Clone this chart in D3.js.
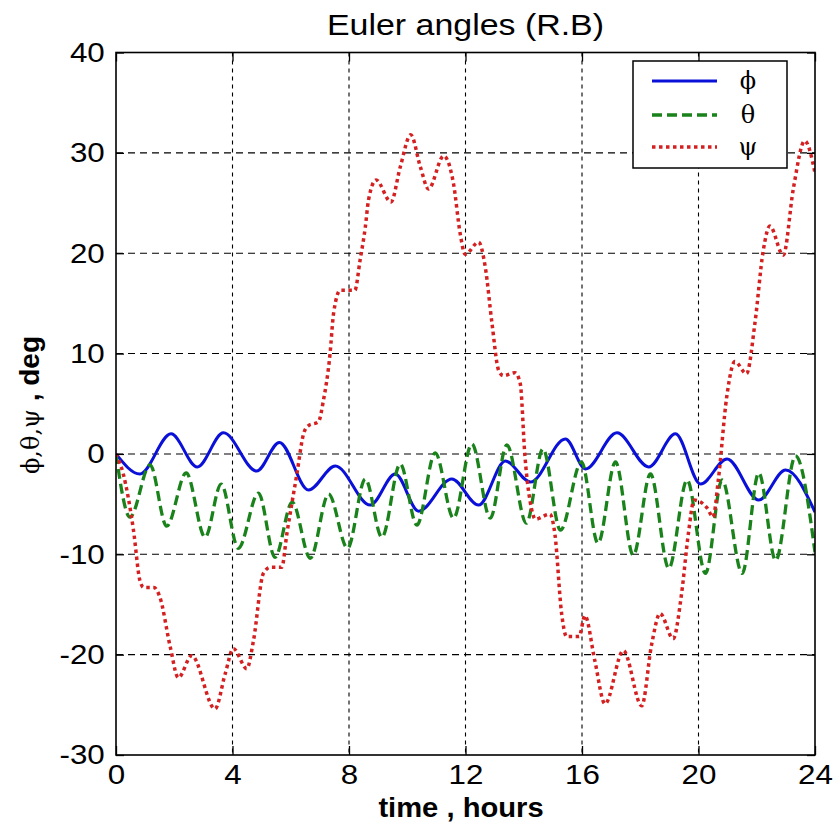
<!DOCTYPE html>
<html><head><meta charset="utf-8">
<script src="https://cdn.jsdelivr.net/npm/d3@7"></script>
<style>body{margin:0;background:#fff;} svg{display:block;}</style>
</head><body>
<svg id="chart" width="833" height="825"></svg>
<script>
// ---- data ----
const xTicks = [0, 4, 8, 12, 16, 20, 24];
const yTicks = [-30, -20, -10, 0, 10, 20, 30, 40];
const titleText = "Euler angles (R.B)";
const xLabel = "time , hours";
const seriesNames = ["ϕ", "θ", "ψ"];

const phiT = [0, 0.82, 1.89, 2.79, 3.69, 4.83, 5.61, 6.61, 7.53, 8.73, 9.59, 10.39, 11.53, 12.45, 13.37, 14.23, 15.43, 16.12, 17.2, 18.29, 19.21, 20.07, 20.98, 22.07, 22.99, 24];
const phiV = [0, -2.0, 2.0, -1.3, 2.1, -1.7, 1.15, -3.6, -1.2, -5.1, -2.0, -5.7, -2.5, -5.1, -0.7, -2.8, 1.5, -1.5, 2.1, -1.3, 2.0, -3.0, -0.5, -4.6, -1.6, -5.8];

const thetaT = [0, 0.48, 1.17, 1.74, 2.41, 3.06, 3.61, 4.2, 4.89, 5.46, 6.05, 6.67, 7.3, 7.95, 8.56, 9.13, 9.76, 10.33, 10.96, 11.59, 12.22, 12.85, 13.42, 14.09, 14.66, 15.26, 15.98, 16.55, 17.15, 17.76, 18.35, 18.98, 19.61, 20.24, 20.81, 21.5, 22.07, 22.65, 23.33, 24];
const thetaV = [0, -6.3, -1.1, -7.2, -1.9, -8.3, -3.0, -9.4, -3.9, -10.3, -4.8, -10.4, -4.0, -9.4, -2.5, -8.3, -1.0, -7.1, 0.1, -6.4, 1.0, -6.4, 0.9, -6.9, 0.5, -7.6, -0.8, -8.9, -0.8, -10.1, -2.0, -11.4, -2.6, -11.9, -2.6, -11.9, -1.9, -10.6, -0.2, -9.8];

const psiT = [0, 0.25, 0.6, 0.82, 0.95, 1.3, 1.51, 1.86, 2.14, 2.6, 3.4, 3.75, 4.03, 4.49, 4.72, 5.06, 5.3, 5.69, 5.87, 6.21, 6.44, 6.6, 6.95, 7.12, 7.35, 7.47, 7.7, 8.2, 8.38, 8.56, 8.67, 8.93, 9.44, 9.76, 10.12, 10.45, 10.73, 11.25, 11.59, 11.82, 11.99, 12.45, 12.68, 12.91, 13.14, 13.3, 13.7, 13.88, 14.04, 14.27, 14.4, 14.9, 15.07, 15.3, 15.47, 15.9, 16.1, 16.44, 16.79, 17.42, 18.05, 18.39, 18.68, 19.13, 19.42, 19.65, 19.85, 20.3, 20.5, 20.68, 20.97, 21.25, 21.65, 21.94, 22.22, 22.45, 22.91, 23.26, 23.65, 24];
const psiV = [0, -2.0, -7.6, -12.6, -13.3, -13.3, -14.3, -19.2, -22.3, -20.1, -25.4, -21.9, -19.4, -21.4, -18.6, -11.9, -11.3, -11.3, -7.9, -2.0, 2.0, 2.8, 3.2, 5.3, 10.0, 14.0, 16.3, 16.3, 19.3, 22.6, 25.3, 27.3, 25.1, 28.6, 31.8, 28.6, 26.4, 29.7, 26.9, 21.9, 19.9, 21.1, 18.6, 13.0, 8.3, 7.8, 8.1, 7.0, -0.2, -5.5, -6.5, -6.0, -8.0, -15.9, -18.2, -18.2, -16.1, -20.6, -24.9, -19.6, -25.1, -19.0, -15.9, -18.4, -13.9, -8.0, -4.6, -5.4, -6.3, -2.6, 5.7, 9.2, 8.0, 13.1, 20.2, 22.7, 19.8, 26.5, 31.2, 28.0];

// ---- styles ----
const colors = ["#0a10d8", "#1a821a", "#d42020"];
const dashes = [null, "10,5", "3.5,3.5"];
const widths = [3, 3.3, 3.5];
const font = "Arial, 'Liberation Sans', Helvetica, sans-serif";
const SX = 1.12;

const svg = d3.select("#chart");
const L = 116, R = 815, T = 52.5, B = 755;
const x = d3.scaleLinear().domain([0, 24]).range([L, R]);
const y = d3.scaleLinear().domain([-30, 40]).range([B, T]);
const fmt = d => String(d);

svg.append("rect").attr("width", 833).attr("height", 825).attr("fill", "#fff");
svg.append("defs").append("clipPath").attr("id", "clip")
  .append("rect").attr("x", L).attr("y", T).attr("width", R - L).attr("height", B - T);

// grid
const grid = svg.append("g").attr("stroke", "#000").attr("stroke-width", 1.1);
grid.selectAll(".vg").data(xTicks.filter(d => d > 0 && d < 24)).join("line")
  .attr("x1", d => x(d)).attr("x2", d => x(d)).attr("y1", T).attr("y2", B)
  .attr("stroke-dasharray", "4,4");
grid.selectAll(".hg").data(yTicks.filter(d => d > -30 && d < 40)).join("line")
  .attr("x1", L).attr("x2", R).attr("y1", d => y(d)).attr("y2", d => y(d))
  .attr("stroke-dasharray", "7,5");

// series
const series = [d3.zip(phiT, phiV), d3.zip(thetaT, thetaV), d3.zip(psiT, psiV)];
const line = d3.line().x(d => x(d[0])).y(d => y(d[1])).curve(d3.curveMonotoneX);
const lg = svg.append("g").attr("clip-path", "url(#clip)");
series.forEach((s, i) => {
  lg.append("path").datum(s).attr("d", line).attr("fill", "none")
    .attr("stroke", colors[i]).attr("stroke-width", widths[i])
    .attr("stroke-dasharray", dashes[i]).attr("stroke-linejoin", "round");
});

// axes
function styleAxis(g, showText) {
  g.select(".domain").remove();
  g.selectAll(".tick line").attr("stroke", "#000").attr("stroke-width", 1.3);
  g.selectAll(".tick text").attr("font-family", font).attr("font-size", 28)
    .attr("fill", "#000").attr("transform", `scale(${SX},1)`);
  if (!showText) g.selectAll(".tick text").remove();
}
svg.append("g").attr("transform", `translate(0,${B})`)
  .call(d3.axisBottom(x).tickValues(xTicks).tickFormat(fmt).tickSizeInner(-9).tickSizeOuter(0).tickPadding(9))
  .call(g => styleAxis(g, true));
svg.append("g").attr("transform", `translate(0,${T})`)
  .call(d3.axisTop(x).tickValues(xTicks).tickSizeInner(-9).tickSizeOuter(0))
  .call(g => styleAxis(g, false));
svg.append("g").attr("transform", `translate(${L},0)`)
  .call(d3.axisLeft(y).tickValues(yTicks).tickFormat(fmt).tickSizeInner(-8).tickSizeOuter(0).tickPadding(10))
  .call(g => styleAxis(g, true));
svg.append("g").attr("transform", `translate(${R},0)`)
  .call(d3.axisRight(y).tickValues(yTicks).tickSizeInner(-8).tickSizeOuter(0))
  .call(g => styleAxis(g, false));

// box
svg.append("rect").attr("x", L).attr("y", T).attr("width", R - L).attr("height", B - T)
  .attr("fill", "none").attr("stroke", "#000").attr("stroke-width", 1.6);

// title
svg.append("g").attr("transform", "translate(465.5,35)")
  .append("text").attr("text-anchor", "middle").attr("font-family", font)
  .attr("font-size", 29).attr("transform", "scale(1.17,1)").text(titleText);

// x label
svg.append("g").attr("transform", "translate(461,817)")
  .append("text").attr("text-anchor", "middle").attr("font-family", font)
  .attr("font-weight", "bold").attr("font-size", 27).attr("transform", "scale(1.08,1)").text(xLabel);

// y label
const yl = svg.append("g").attr("transform", "translate(39,405) rotate(-90)")
  .append("text").attr("text-anchor", "middle").attr("font-family", font).attr("font-size", 28);
yl.append("tspan").attr("font-family", "'DejaVu Serif', serif").attr("font-size", 24)
  .text(seriesNames.join(","));
yl.append("tspan").attr("font-weight", "bold").text(" , deg");

// legend
const leg = svg.append("g");
leg.append("rect").attr("x", 633).attr("y", 61).attr("width", 154).attr("height", 107)
  .attr("fill", "#fff").attr("stroke", "#000").attr("stroke-width", 1.5);
const rows = [81, 115, 147];
seriesNames.forEach((n, i) => {
  leg.append("line").attr("x1", 652).attr("x2", 717).attr("y1", rows[i]).attr("y2", rows[i])
    .attr("stroke", colors[i]).attr("stroke-width", widths[i]).attr("stroke-dasharray", dashes[i]);
  leg.append("text").attr("x", 748).attr("y", rows[i] + 8).attr("text-anchor", "middle")
    .attr("font-family", "'DejaVu Serif', serif").attr("font-size", 24).text(n);
});
</script>
</body></html>
